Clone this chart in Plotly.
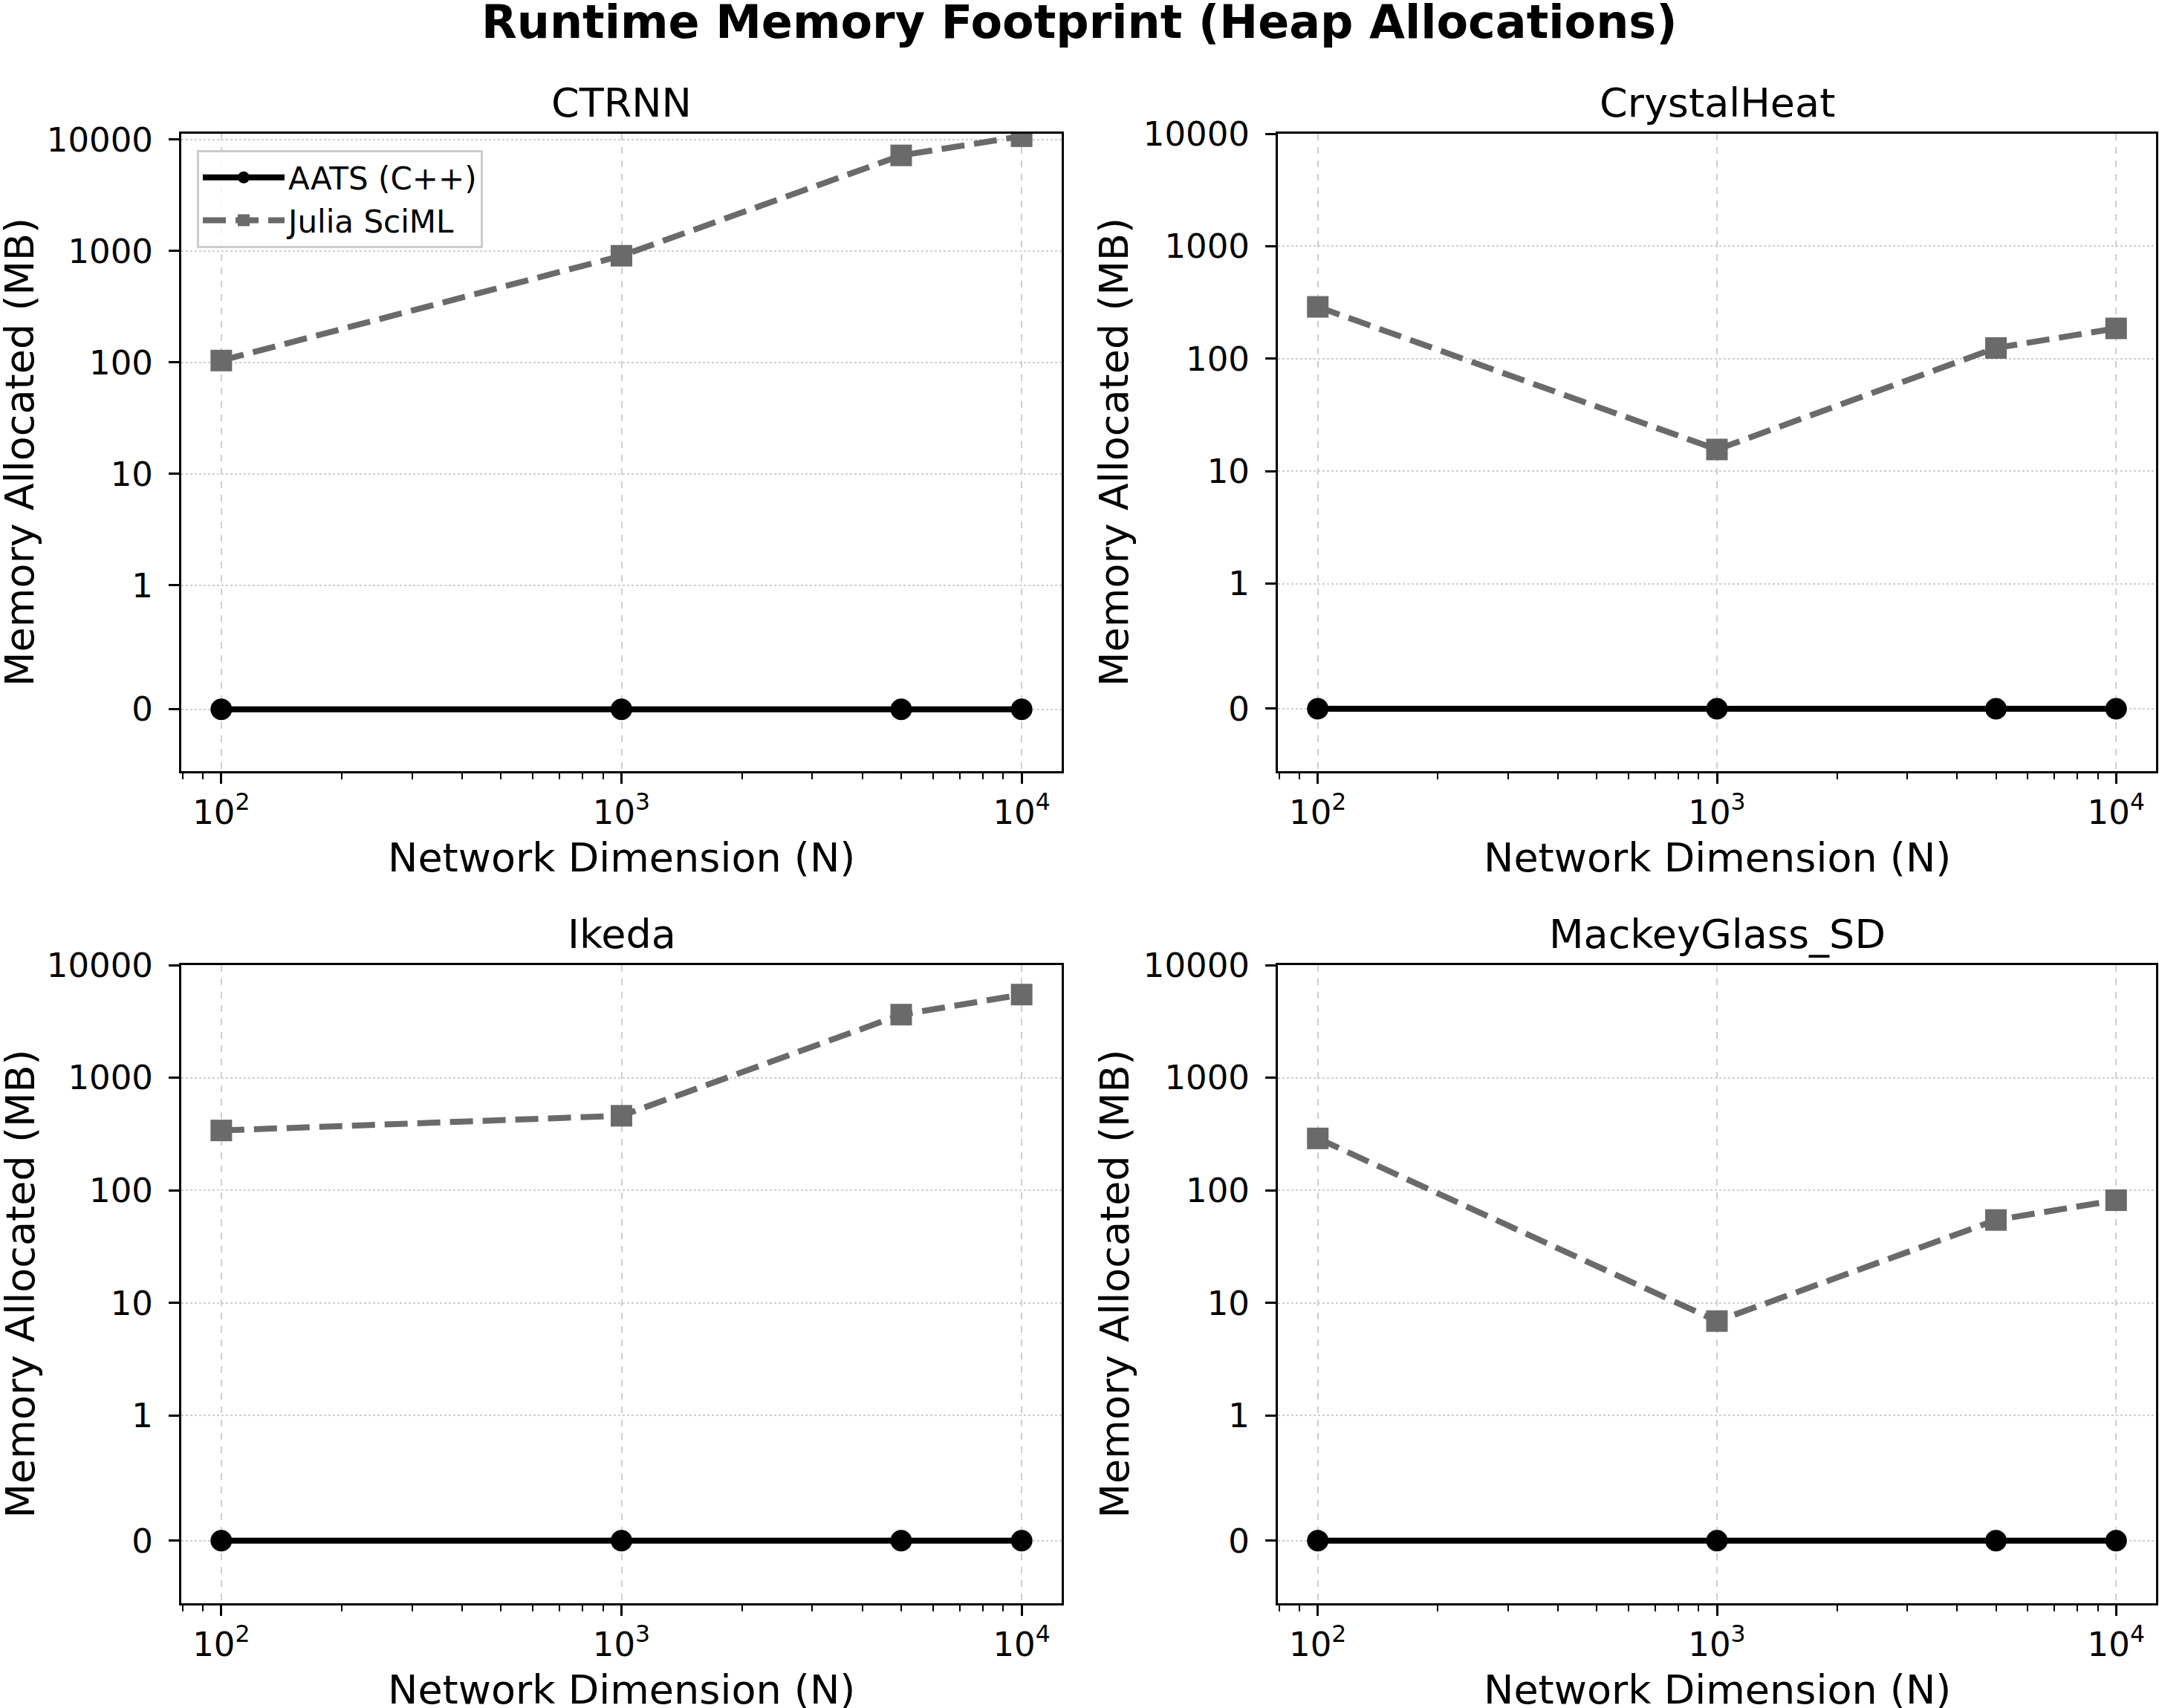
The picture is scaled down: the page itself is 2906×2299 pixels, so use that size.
import numpy as np
import plotly.graph_objects as go

# ---------------- data ----------------
network_dims = [100, 1000, 5000, 10000]
panel_names = ["CTRNN", "CrystalHeat", "Ikeda", "MackeyGlass_SD"]

aats_ctrnn = [0, 0, 0, 0]
aats_crystalheat = [0, 0, 0, 0]
aats_ikeda = [0, 0, 0, 0]
aats_mackeyglass = [0, 0, 0, 0]

julia_ctrnn = [104, 906, 7200, 10700]
julia_crystalheat = [289, 15.6, 124.5, 186]
julia_ikeda = [340, 459, 3630, 5470]
julia_mackeyglass = [289, 6.9, 54.5, 81.7]

y_tick_values = [0, 1, 10, 100, 1000, 10000]
y_tick_labels = ["0", "1", "10", "100", "1000", "10000"]
x_tick_values = [100, 1000, 10000]
x_tick_labels = ["10<sup>2</sup>", "10<sup>3</sup>", "10<sup>4</sup>"]
x_minor_values = [80, 90, 200, 300, 400, 500, 600, 700, 800, 900,
                  2000, 3000, 4000, 5000, 6000, 7000, 8000, 9000]

series_aats = [aats_ctrnn, aats_crystalheat, aats_ikeda, aats_mackeyglass]
series_julia = [julia_ctrnn, julia_crystalheat, julia_ikeda, julia_mackeyglass]

# ---------------- symlog scale (linthresh=1, base 10, linscale=1) ----------------
LINTHRESH = 1.0
LINSCALE_ADJ = 1.0 / (1.0 - 1.0 / 10.0)


def symlog(v):
    v = np.asarray(v, dtype=float)
    a = np.abs(v)
    out = np.where(a <= LINTHRESH, a / LINTHRESH * LINSCALE_ADJ,
                   LINSCALE_ADJ + np.log10(np.maximum(a, 1e-300) / LINTHRESH))
    return np.sign(v) * out


# ---------------- layout geometry ----------------
W, H = 2906, 2299
frames = [  # x0, x1, y0(top), y1(bottom) in pixels
    (244, 1429, 180, 1038),
    (1720, 2902, 180, 1038),
    (244, 1429, 1299, 2158),
    (1720, 2902, 1299, 2158),
]
y_tops = [symlog(10700 * 1.053).item(), symlog(10000).item(),
          symlog(10000).item(), symlog(10000).item()]
y_bottom = symlog(-0.5).item()

FONT = "DejaVu Sans"
AATS_COLOR = "#000000"
JULIA_COLOR = "#6a6a6a"
GRID_COLOR = "#cfcfcf"

fig = go.Figure()
layout = dict(
    width=W, height=H,
    margin=dict(l=0, r=0, t=0, b=0, pad=0, autoexpand=False),
    paper_bgcolor="white", plot_bgcolor="white",
    font=dict(family=FONT, size=45, color="black"),
    showlegend=True,
    legend=dict(
        x=265 / W, y=1 - 202 / H, xanchor="left", yanchor="top",
        bgcolor="rgba(255,255,255,0.8)", bordercolor="#cccccc", borderwidth=3,
        font=dict(family=FONT, size=42, color="black"),
        itemwidth=110, tracegroupgap=0,
    ),
)
annotations = []

for i, name in enumerate(panel_names):
    x0, x1, yt, yb = frames[i]
    ax = "" if i == 0 else str(i + 1)
    xa = "x" + ax
    ya = "y" + ax
    fig.add_trace(go.Scatter(
        x=network_dims, y=symlog(series_aats[i]), xaxis=xa, yaxis=ya,
        mode="lines+markers", name="AATS (C++)",
        showlegend=(i == 0),
        line=dict(color=AATS_COLOR, width=8),
        marker=dict(symbol="circle", size=29, color=AATS_COLOR, line=dict(width=0)),
    ))
    fig.add_trace(go.Scatter(
        x=network_dims, y=symlog(series_julia[i]), xaxis=xa, yaxis=ya,
        mode="lines+markers", name="Julia SciML",
        showlegend=(i == 0),
        line=dict(color=JULIA_COLOR, width=8, dash="31px,13px"),
        marker=dict(symbol="square", size=29, color=JULIA_COLOR, line=dict(width=0)),
    ))

    layout["xaxis" + ax] = dict(
        domain=[x0 / W, x1 / W], anchor=ya, type="log",
        range=[1.9, 4.1], automargin=False,
        tickmode="array", tickvals=x_tick_values, ticktext=x_tick_labels,
        ticks="outside", ticklen=14, tickwidth=3, tickcolor="black",
        tickfont=dict(family=FONT, size=45, color="black"),
        showline=True, linecolor="black", linewidth=3, mirror=True,
        showgrid=True, gridcolor=GRID_COLOR, gridwidth=2, griddash="dash",
        zeroline=False,
        minor=dict(tickmode="array", tickvals=x_minor_values, ticks="outside",
                   ticklen=8, tickwidth=2, tickcolor="black", showgrid=False),
    )
    layout["yaxis" + ax] = dict(
        domain=[1 - yb / H, 1 - yt / H], anchor=xa,
        range=[y_bottom, y_tops[i]], automargin=False,
        tickmode="array", tickvals=symlog(y_tick_values).tolist(), ticktext=y_tick_labels,
        ticks="outside", ticklen=14, tickwidth=3, tickcolor="black",
        tickfont=dict(family=FONT, size=45, color="black"),
        ticklabelstandoff=12,
        showline=True, linecolor="black", linewidth=3, mirror=True,
        showgrid=True, gridcolor=GRID_COLOR, gridwidth=2, griddash="dot",
        zeroline=False,
    )

    cx = (x0 + x1) / 2
    # subplot title
    annotations.append(dict(
        text=name, x=cx / W, y=1 - (yt - 42) / H, xref="paper", yref="paper",
        xanchor="center", yanchor="middle", showarrow=False,
        font=dict(family=FONT, size=54, color="black"),
    ))
    # x axis title
    annotations.append(dict(
        text="Network Dimension (N)", x=cx / W, y=1 - (yb + 116) / H,
        xref="paper", yref="paper", xanchor="center", yanchor="middle",
        showarrow=False, font=dict(family=FONT, size=54, color="black"),
    ))
    # y axis title
    ylab_x = 27 if x0 < 1000 else 1500
    annotations.append(dict(
        text="Memory Allocated (MB)", x=ylab_x / W, y=1 - ((yt + yb) / 2) / H,
        xref="paper", yref="paper", xanchor="center", yanchor="middle",
        textangle=-90, showarrow=False,
        font=dict(family=FONT, size=54, color="black"),
    ))

annotations.append(dict(
    text="<b>Runtime Memory Footprint (Heap Allocations)</b>",
    x=0.5, y=1 - 30 / H, xref="paper", yref="paper",
    xanchor="center", yanchor="middle", showarrow=False,
    font=dict(family=FONT, size=62, color="black"),
))
layout["annotations"] = annotations
fig.update_layout(**layout)

fig.write_html("out.html")
